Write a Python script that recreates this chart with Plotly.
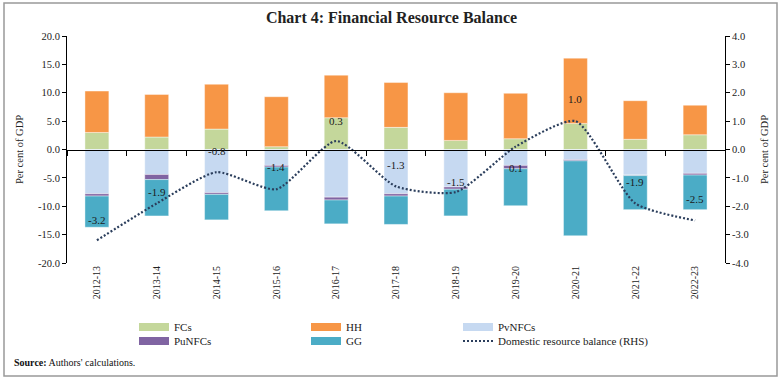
import plotly.graph_objects as go

categories = ["2012-13", "2013-14", "2014-15", "2015-16", "2016-17", "2017-18",
              "2018-19", "2019-20", "2020-21", "2021-22", "2022-23"]
fcs = [3.0, 2.2, 3.6, 0.5, 5.6, 3.9, 1.6, 1.9, 4.6, 1.8, 2.6]
hh = [7.3, 7.5, 7.9, 8.8, 7.5, 7.9, 8.4, 8.0, 11.5, 6.8, 5.2]
pvnfcs = [-7.8, -4.4, -7.6, -2.8, -8.4, -7.8, -6.6, -2.8, -1.8, -4.5, -4.2]
punfcs = [-0.4, -0.9, -0.3, -0.3, -0.5, -0.4, -0.4, -0.6, -0.2, -0.1, -0.3]
gg = [-5.5, -6.4, -4.5, -7.7, -4.2, -5.0, -4.7, -6.5, -13.2, -6.0, -6.1]
drb = [-3.2, -1.9, -0.8, -1.4, 0.3, -1.3, -1.5, 0.1, 1.0, -1.9, -2.5]

left_ticks = [-20, -15, -10, -5, 0, 5, 10, 15, 20]
right_ticks = [-4, -3, -2, -1, 0, 1, 2, 3, 4]

# styling
W, H = 783, 382
ML, MR, MT, MB = 67, 58, 36, 119
PW, PH = W - ML - MR, H - MT - MB
FONT = "Liberation Serif"
colors = {"FCs": "#C4D79B", "HH": "#F79646", "PvNFCs": "#C6D9F1",
          "PuNFCs": "#8064A2", "GG": "#4BACC6"}
line_color = "#2B3E5C"
label_shift = [20, 11, 21, 22, 20, 21, 10, -21, 22, 21, 21]


def px_x(p):
    return (p - ML) / PW


def px_y(p):
    return (H - MB - p) / PH


series = [("FCs", fcs), ("HH", hh), ("PvNFCs", pvnfcs), ("PuNFCs", punfcs), ("GG", gg)]
# legend slot for each entry: (x px, y px centre)
legend_slots = {"FCs": ("legend", 134, 327), "HH": ("legend2", 306, 327),
                "PvNFCs": ("legend3", 458, 327), "PuNFCs": ("legend4", 134, 341),
                "GG": ("legend5", 306, 341), "DRB": ("legend6", 458, 341)}

fig = go.Figure()
for name, vals in series:
    fig.add_trace(go.Bar(x=categories, y=vals, name=name, marker_color=colors[name],
                         marker_line=dict(color="rgba(255,255,255,0.7)", width=0.6),
                         showlegend=False))
# legend swatches
for name, _ in series:
    fig.add_trace(go.Scatter(x=[None], y=[None], mode="lines", name=name,
                             line=dict(color=colors[name], width=8),
                             legend=legend_slots[name][0], hoverinfo="skip"))

fig.add_trace(go.Scatter(x=categories, y=drb, mode="lines", name="Domestic resource balance (RHS)",
                         line=dict(color=line_color, width=2.2, dash="2px,2px", shape="spline",
                                   smoothing=0.6),
                         xaxis="x2", yaxis="y2", legend=legend_slots["DRB"][0]))

annotations = []
for c, v, s in zip(categories, drb, label_shift):
    annotations.append(dict(x=c, y=v, xref="x2", yref="y2", text=f"{v:.1f}",
                            showarrow=False, yshift=s,
                            font=dict(family=FONT, size=11, color="#1a1a1a")))
annotations.append(dict(x=px_x(12), y=px_y(363), xref="paper", yref="paper",
                        xanchor="left", yanchor="middle", showarrow=False,
                        text="<b>Source:</b> Authors' calculations.",
                        font=dict(family=FONT, size=10, color="#111")))

legends = {}
for key, lx, ly in legend_slots.values():
    legends[key] = dict(orientation="v", bgcolor="rgba(0,0,0,0)",
                        font=dict(family=FONT, size=11, color="#222"),
                        xanchor="left", yanchor="middle", x=px_x(lx), y=px_y(ly))

fig.update_layout(
    width=W, height=H,
    margin=dict(l=ML, r=MR, t=MT, b=MB),
    paper_bgcolor="white", plot_bgcolor="white",
    barmode="relative", bargap=0.6,
    font=dict(family=FONT, size=10.5, color="#222"),
    title=dict(text="<b>Chart 4: Financial Resource Balance</b>", x=0.5, xanchor="center",
               y=1 - 17 / H, yanchor="middle",
               font=dict(family=FONT, size=16, color="#222")),
    xaxis=dict(type="category", categoryorder="array", categoryarray=categories,
               range=[-0.5, 10.5], showline=False, ticks="", tickangle=-90,
               tickfont=dict(family=FONT, size=10), showgrid=False),
    xaxis2=dict(type="category", categoryorder="array", categoryarray=categories,
                range=[-0.5, 10.5], overlaying="x", anchor="free", position=0.5,
                side="bottom", showline=True, linecolor="black", linewidth=1,
                ticks="outside", ticklen=5, tickcolor="black", tickson="boundaries",
                showticklabels=False, showgrid=False),
    yaxis=dict(range=[-20, 20], tickvals=left_ticks,
               ticktext=[f"{v:.1f}" for v in left_ticks],
               showline=True, linecolor="black", linewidth=1, ticks="outside",
               ticklen=4, tickcolor="black", showgrid=False, zeroline=False,
               title=dict(text="Per cent of GDP", font=dict(family=FONT, size=10.5), standoff=12)),
    yaxis2=dict(range=[-4, 4], tickvals=right_ticks,
                ticktext=[f"{v:.1f}" for v in right_ticks],
                overlaying="y", side="right", anchor="x2",
                showline=True, linecolor="black", linewidth=1, ticks="outside",
                ticklen=4, tickcolor="black", showgrid=False, zeroline=False,
                title=dict(text="Per cent of GDP", font=dict(family=FONT, size=10.5), standoff=12)),
    annotations=annotations,
    shapes=[dict(type="rect", xref="paper", yref="paper",
                 x0=px_x(4), x1=px_x(777), y0=px_y(376), y1=px_y(3),
                 line=dict(color="#999999", width=1.5), fillcolor="rgba(0,0,0,0)",
                 layer="below")],
    **legends,
)

fig.write_html("out.html", config={"displayModeBar": False},
               post_script="document.body.style.margin='0px';")
